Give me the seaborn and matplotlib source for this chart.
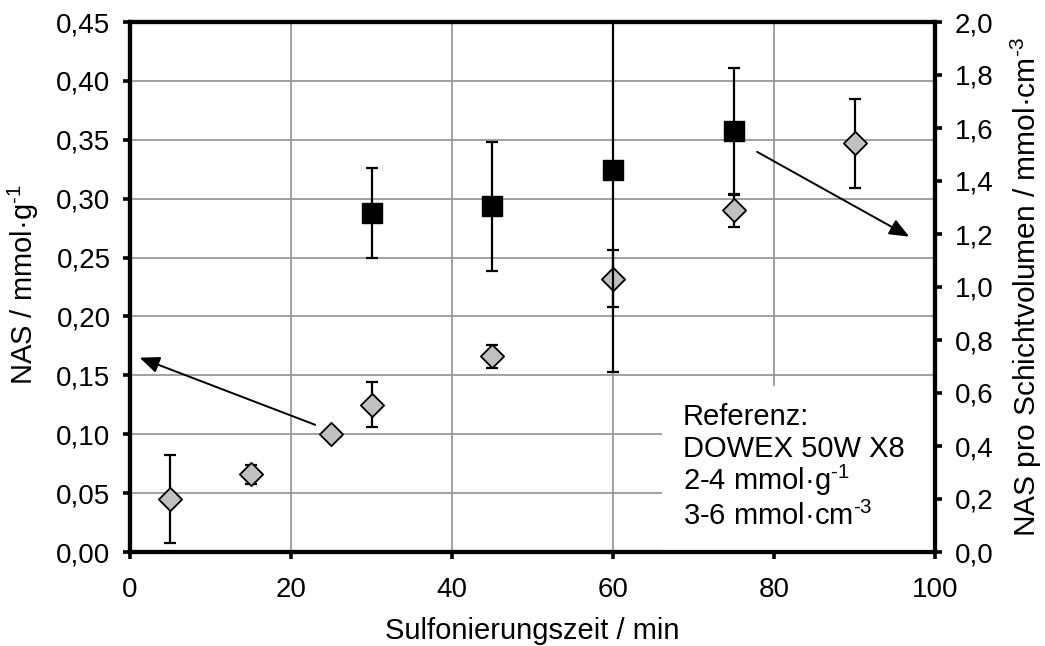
import matplotlib
matplotlib.use("Agg")
import matplotlib.pyplot as plt
import matplotlib.ticker as mticker
from matplotlib.patches import Rectangle
import seaborn as sns
import pandas as pd

# data
time_g = [5, 15, 25, 30, 45, 60, 75, 90]
nas_g = [0.045, 0.066, 0.100, 0.125, 0.166, 0.232, 0.290, 0.347]
err_g = [0.037, 0.008, 0.003, 0.019, 0.010, 0.024, 0.014, 0.038]

time_v = [30, 45, 60, 75]
nas_v = [1.28, 1.304, 1.44, 1.587]
err_v = [0.17, 0.245, 0.76, 0.24]

left_ticks = [0.00, 0.05, 0.10, 0.15, 0.20, 0.25, 0.30, 0.35, 0.40, 0.45]
right_ticks = [0.0, 0.2, 0.4, 0.6, 0.8, 1.0, 1.2, 1.4, 1.6, 1.8, 2.0]
x_ticks = [0, 20, 40, 60, 80, 100]

HY = "\u2010"
ref_lines = ["Referenz:", "DOWEX 50W X8",
             "2-4 mmol·g$^{" + HY + "1}$", "3-6 mmol·cm$^{" + HY + "3}$"]

sns.set_theme(style="white")
plt.rcParams['font.family'] = ['Liberation Sans', 'DejaVu Sans']
plt.rcParams['mathtext.fontset'] = 'custom'
plt.rcParams['mathtext.rm'] = 'Liberation Sans'
plt.rcParams['mathtext.it'] = 'Liberation Sans:italic'
plt.rcParams['mathtext.bf'] = 'Liberation Sans:bold'
plt.rcParams['mathtext.default'] = 'regular'

FS = 20
LFS = 21

fig = plt.figure(figsize=(10.45, 6.46), dpi=100)
ax = fig.add_axes([130/1045, 94/646, 805/1045, 530/646])
ax2 = ax.twinx()

df_g = pd.DataFrame({"t": time_g, "nas": nas_g})
df_v = pd.DataFrame({"t": time_v, "nas": nas_v})

# grid
ax.set_axisbelow(True)
ax.grid(True, color="#9a9a9a", lw=1.3)

# left series
ax.errorbar(time_g, nas_g, yerr=err_g, fmt='none', ecolor='black', elinewidth=1.6,
            capsize=4.5, capthick=1.6, zorder=3)
sns.scatterplot(data=df_g, x="t", y="nas", ax=ax, marker='D', s=140, color="#c0c0c0",
                edgecolor='black', linewidth=1.3, zorder=4, legend=False)

# right series
ax2.errorbar(time_v, nas_v, yerr=err_v, fmt='none', ecolor='black', elinewidth=1.6,
             capsize=4.5, capthick=1.6, zorder=3)
sns.scatterplot(data=df_v, x="t", y="nas", ax=ax2, marker='s', s=210, color="black",
                edgecolor='black', linewidth=1, zorder=4, legend=False)

ax.set_xlim(0, 100)
ax.set_ylim(0, 0.45)
ax2.set_ylim(0, 2.0)
ax.set_xticks(x_ticks)
ax.set_yticks(left_ticks)
ax2.set_yticks(right_ticks)
ax.yaxis.set_major_formatter(mticker.FuncFormatter(lambda v, p: f"{v:.2f}".replace('.', ',')))
ax2.yaxis.set_major_formatter(mticker.FuncFormatter(lambda v, p: f"{v:.1f}".replace('.', ',')))
ax.xaxis.set_major_formatter(mticker.FuncFormatter(lambda v, p: f"{v:.0f}"))

for a in (ax, ax2):
    for s in a.spines.values():
        s.set_linewidth(3.0)
        s.set_color('black')
ax.tick_params(axis='y', which='major', direction='out', length=5, width=2.6,
               labelsize=FS, colors='black', pad=9, left=True)
ax.tick_params(axis='x', which='major', direction='out', length=5, width=2.6,
               labelsize=FS, colors='black', pad=13, bottom=True)
ax2.tick_params(axis='y', direction='out', length=5, width=2.6, labelsize=FS,
                colors='black', pad=9, right=True)

ax.set_xlabel("Sulfonierungszeit / min", fontsize=LFS, color='black')
ax.set_ylabel("NAS / mmol·g$^{" + HY + "1}$", fontsize=LFS, color='black')
ax2.set_ylabel("NAS pro Schichtvolumen / mmol·cm$^{" + HY + "3}$", fontsize=21.5, color='black')
ax.xaxis.label.set_va('center')
ax.xaxis.set_label_coords(0.5, -0.149)
ax.yaxis.label.set_va('center')
ax.yaxis.set_label_coords(-0.133, 0.505)
ax2.yaxis.label.set_va('center')
ax2.yaxis.set_label_coords(1.114, 0.5)

# reference box (covers gridlines)
ax2.add_patch(Rectangle((66.1, 0.0), 33.9, 0.625, facecolor='white', edgecolor='none', zorder=1))
baselines_px = [425, 457, 490, 525]
for line, bpx in zip(ref_lines, baselines_px):
    ax2.text(68.7, (552 - bpx) / 530 * 2.0, line, fontsize=21, va='baseline', ha='left',
             zorder=2, color='black')

# arrows
arrow_kw = dict(arrowstyle='-|>,head_length=0.6,head_width=0.25', color='black', lw=1.4,
                mutation_scale=20, shrinkA=0, shrinkB=0)
ax.annotate("", xy=(1.2, 0.165), xytext=(23, 0.108), arrowprops=arrow_kw, zorder=5)
ax2.annotate("", xy=(96.8, 1.19), xytext=(77.9, 1.51), arrowprops=arrow_kw, zorder=5)

fig.savefig("out.png", dpi=100)
